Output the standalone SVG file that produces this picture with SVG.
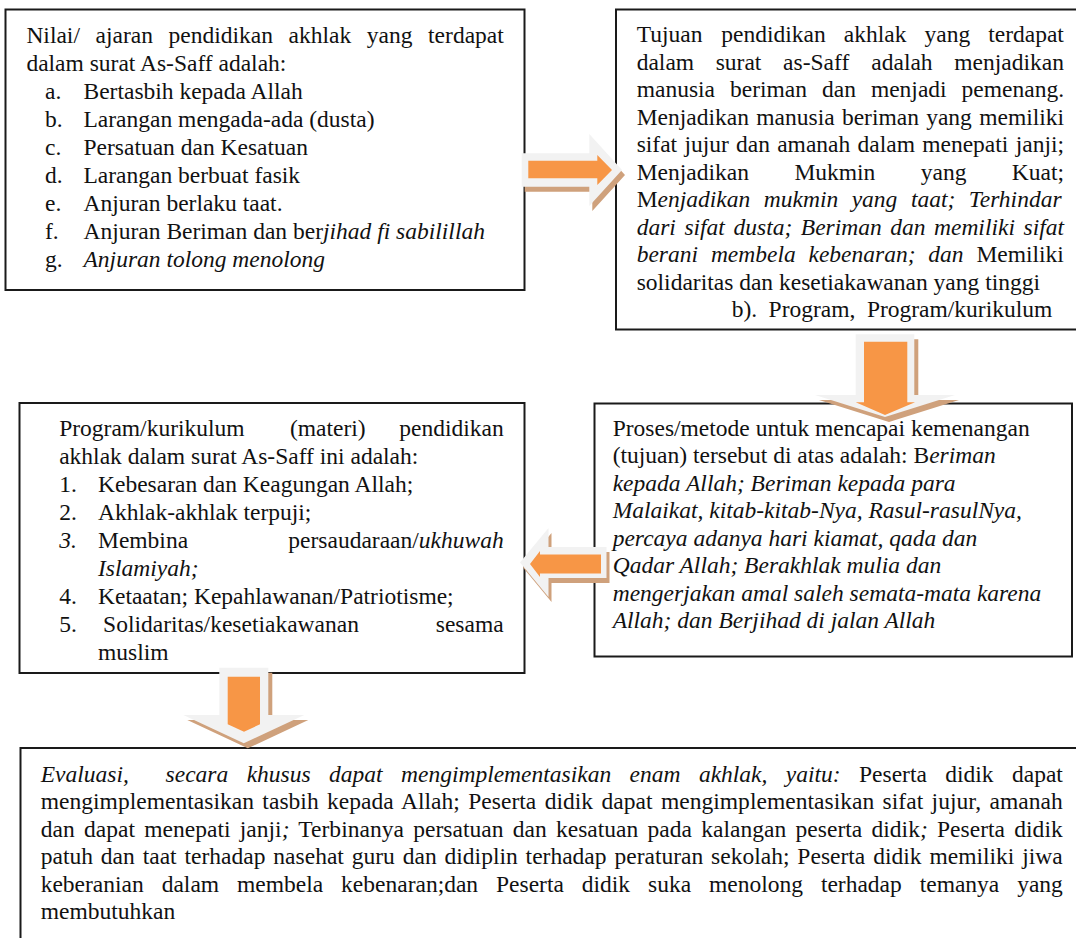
<svg xmlns="http://www.w3.org/2000/svg" width="1076" height="938" viewBox="0 0 1076 938">
<style>
.box{fill:#fff;stroke:#1a1a1a;stroke-width:2}
.t{font-family:"Liberation Serif","Times New Roman",serif;font-size:23.5px;fill:#111}
.i{font-style:italic}
.sh{fill:#cfa17c}
.rim{fill:#f2f2f2}
.core{fill:#f79646}
</style>
<rect width="1076" height="938" fill="#fff"/>

<g id="node-nilai">
<rect class="box" x="5.5" y="9.5" width="519" height="280.5"/>
<text class="t" y="42.5"><tspan x="26.4">Nilai/</tspan><tspan x="95.5">ajaran</tspan><tspan x="168.5">pendidikan</tspan><tspan x="288.5">akhlak</tspan><tspan x="366.8">yang</tspan><tspan x="428.1">terdapat</tspan></text>
<text class="t" x="26.4" y="70.5">dalam surat As-Saff adalah:</text>
<text class="t" y="98.5"><tspan x="45">a.</tspan><tspan x="83.5">Bertasbih kepada Allah</tspan></text>
<text class="t" y="126.5"><tspan x="45">b.</tspan><tspan x="83.5">Larangan mengada-ada (dusta)</tspan></text>
<text class="t" y="154.5"><tspan x="45">c.</tspan><tspan x="83.5">Persatuan dan Kesatuan</tspan></text>
<text class="t" y="182.5"><tspan x="45">d.</tspan><tspan x="83.5">Larangan berbuat fasik</tspan></text>
<text class="t" y="210.5"><tspan x="45">e.</tspan><tspan x="83.5">Anjuran berlaku taat.</tspan></text>
<text class="t" y="238.5"><tspan x="45">f.</tspan><tspan x="83.5">Anjuran Beriman dan ber</tspan><tspan class="i">jihad fi sabilillah</tspan></text>
<text class="t" y="266.5"><tspan x="45">g.</tspan><tspan x="83.5" class="i">Anjuran tolong menolong</tspan></text>
</g>

<g id="node-tujuan">
<rect class="box" x="616" y="9.5" width="480" height="320"/>
<text class="t" y="42.3"><tspan x="636.7">Tujuan</tspan><tspan x="721.3">pendidikan</tspan><tspan x="843.8">akhlak</tspan><tspan x="924.5">yang</tspan><tspan x="988.2">terdapat</tspan></text>
<text class="t" y="69.8"><tspan x="636.7">dalam</tspan><tspan x="715.7">surat</tspan><tspan x="783.1">as-Saff</tspan><tspan x="871.3">adalah</tspan><tspan x="954.3">menjadikan</tspan></text>
<text class="t" y="97.3"><tspan x="636.7">manusia</tspan><tspan x="730">beriman</tspan><tspan x="822">dan</tspan><tspan x="870.9">menjadi</tspan><tspan x="961.6">pemenang.</tspan></text>
<text class="t" y="124.8"><tspan x="636.7">Menjadikan</tspan><tspan x="756.3">manusia</tspan><tspan x="841.9">beriman</tspan><tspan x="926.2">yang</tspan><tspan x="979.2">memiliki</tspan></text>
<text class="t" y="152.3"><tspan x="636.7">sifat</tspan><tspan x="684.4">jujur</tspan><tspan x="736.1">dan</tspan><tspan x="777.2">amanah</tspan><tspan x="857.6">dalam</tspan><tspan x="922.2">menepati</tspan><tspan x="1015.7">janji;</tspan></text>
<text class="t" y="179.8"><tspan x="636.7">Menjadikan</tspan><tspan x="794.4">Mukmin</tspan><tspan x="920.8">yang</tspan><tspan x="1011.8">Kuat;</tspan></text>
<text class="t" y="207.3"><tspan x="636.7">M</tspan><tspan class="i">enjadikan</tspan><tspan class="i" x="763.8">mukmin</tspan><tspan class="i" x="851.7">yang</tspan><tspan class="i" x="910.9">taat;</tspan><tspan class="i" x="968.8">Terhindar</tspan></text>
<text class="t i" y="234.8"><tspan x="636.7">dari</tspan><tspan x="684.4">sifat</tspan><tspan x="733.5">dusta;</tspan><tspan x="800.8">Beriman</tspan><tspan x="890.2">dan</tspan><tspan x="934">memiliki</tspan><tspan x="1023.5">sifat</tspan></text>
<text class="t" y="262.3"><tspan class="i" x="636.7">berani</tspan><tspan class="i" x="710.9">membela</tspan><tspan class="i" x="808.5">kebenaran;</tspan><tspan class="i" x="928.3">dan</tspan><tspan x="976.4">Memiliki</tspan></text>
<text class="t" x="636.7" y="289.8">solidaritas dan kesetiakawanan yang tinggi</text>
<text class="t" y="317.3"><tspan x="731.7">b).</tspan><tspan x="768.6">Program,</tspan><tspan x="866.9">Program/kurikulum</tspan></text>
</g>

<g id="node-program">
<rect class="box" x="19.5" y="403" width="505" height="270"/>
<text class="t" y="436.2"><tspan x="59.2">Program/kurikulum</tspan><tspan x="290">(materi)</tspan><tspan x="399.3">pendidikan</tspan></text>
<text class="t" x="59.2" y="464.2">akhlak dalam surat As-Saff ini adalah:</text>
<text class="t" y="492.2"><tspan x="59.2">1.</tspan><tspan x="98">Kebesaran dan Keagungan Allah;</tspan></text>
<text class="t" y="520.2"><tspan x="59.2">2.</tspan><tspan x="98">Akhlak-akhlak terpuji;</tspan></text>
<text class="t" y="548.2"><tspan x="59.2" class="i">3.</tspan><tspan x="98">Membina</tspan><tspan x="288.3">persaudaraan/</tspan><tspan class="i">ukhuwah</tspan></text>
<text class="t i" x="98" y="576.2">Islamiyah;</text>
<text class="t" y="604.2"><tspan x="59.2">4.</tspan><tspan x="98">Ketaatan; Kepahlawanan/Patriotisme;</tspan></text>
<text class="t" y="632.2"><tspan x="59.2">5.</tspan><tspan x="103.1">Solidaritas/kesetiakawanan</tspan><tspan x="435.8">sesama</tspan></text>
<text class="t" x="98" y="660.2">muslim</text>
</g>

<g id="node-proses">
<rect class="box" x="594.5" y="403.5" width="477.5" height="253"/>
<text class="t" x="612.7" y="435.7">Proses/metode untuk mencapai kemenangan</text>
<text class="t" x="612.7" y="463.2">(tujuan) tersebut di atas adalah: B<tspan class="i">eriman</tspan></text>
<text class="t i" x="612.7" y="490.7">kepada Allah; Beriman kepada para</text>
<text class="t i" x="612.7" y="518.2">Malaikat, kitab-kitab-Nya, Rasul-rasulNya,</text>
<text class="t i" x="612.7" y="545.7">percaya adanya hari kiamat, qada dan</text>
<text class="t i" x="612.7" y="573.2">Qadar Allah; Berakhlak mulia dan</text>
<text class="t i" x="612.7" y="600.7">mengerjakan amal saleh semata-mata karena</text>
<text class="t i" x="612.7" y="628.2">Allah; dan Berjihad di jalan Allah</text>
</g>

<g id="node-evaluasi">
<rect class="box" x="20.5" y="748" width="1080" height="200"/>
<text class="t i" y="781.7"><tspan x="40.7">Evaluasi,</tspan><tspan x="165.6">secara</tspan><tspan x="246.7">khusus</tspan><tspan x="329.1">dapat</tspan><tspan x="401">mengimplementasikan</tspan><tspan x="629.6">enam</tspan><tspan x="698.9">akhlak,</tspan><tspan x="785.8">yaitu:</tspan><tspan x="859" font-style="normal">Peserta</tspan><tspan x="945.3" font-style="normal">didik</tspan><tspan x="1012" font-style="normal">dapat</tspan></text>
<text class="t" x="40.7" y="809.2" word-spacing="2.5" textLength="1022" lengthAdjust="spacing">mengimplementasikan tasbih kepada Allah; Peserta didik dapat mengimplementasikan sifat jujur, amanah</text>
<text class="t" x="40.7" y="836.7" word-spacing="3.3" textLength="1022" lengthAdjust="spacing">dan dapat menepati janji<tspan class="i">;</tspan> Terbinanya persatuan dan kesatuan pada kalangan peserta didik<tspan class="i">;</tspan> Peserta didik</text>
<text class="t" x="40.7" y="864.2" word-spacing="2" textLength="1022" lengthAdjust="spacing">patuh dan taat terhadap nasehat guru dan didiplin terhadap peraturan sekolah; Peserta didik memiliki jiwa</text>
<text class="t" y="891.7"><tspan x="40.7">keberanian</tspan><tspan x="161.7">dalam</tspan><tspan x="237">membela</tspan><tspan x="341.1">kebenaran;dan</tspan><tspan x="496">Peserta</tspan><tspan x="581.8">didik</tspan><tspan x="648">suka</tspan><tspan x="709">menolong</tspan><tspan x="820.9">terhadap</tspan><tspan x="919.7">temanya</tspan><tspan x="1017.2">yang</tspan></text>
<text class="t" x="40.7" y="919.2">membutuhkan</text>
</g>

<g id="connectors">
<g id="arrow-nilai-tujuan">
<path class="sh" transform="translate(3,5)" d="M521.7,153.3H589.3V134L622,170L589.3,206V186.7H521.7Z"/>
<path class="rim" d="M521.7,153.3H589.3V134L622,170L589.3,206V186.7H521.7Z"/>
<path class="core" d="M528.3,160.7H597.3V155L612,170L597.3,185V178.3H528.3Z"/>
</g>
<g id="arrow-tujuan-proses">
<path class="sh" transform="translate(4,5)" d="M855.7,334.3H914.3V395H955L885,417L815,395H855.7Z"/>
<path class="rim" d="M855.7,334.3H914.3V395H955L885,417L815,395H855.7Z"/>
<path class="core" d="M864,341.7H907.3V402.3H915L885,415L855.7,402.3H864Z"/>
</g>
<g id="arrow-proses-program">
<path class="sh" transform="translate(3,5)" d="M520,562.5L548.5,528V547H606.5V578H548.5V597Z"/>
<path class="rim" d="M520,562.5L548.5,528V547H606.5V578H548.5V597Z"/>
<path class="core" d="M530,564L540,551V554.5H601V573.5H540V577Z"/>
</g>
<g id="arrow-program-evaluasi">
<path class="sh" transform="translate(4,5)" d="M219.3,667.7H268.3V715H304.3L243.8,743.3L183.3,715H219.3Z"/>
<path class="rim" d="M219.3,667.7H268.3V715H304.3L243.8,743.3L183.3,715H219.3Z"/>
<path class="core" d="M227.7,676.7H260V724.3L244,731.7L227.7,724.3Z"/>
</g>
</g>
</svg>
